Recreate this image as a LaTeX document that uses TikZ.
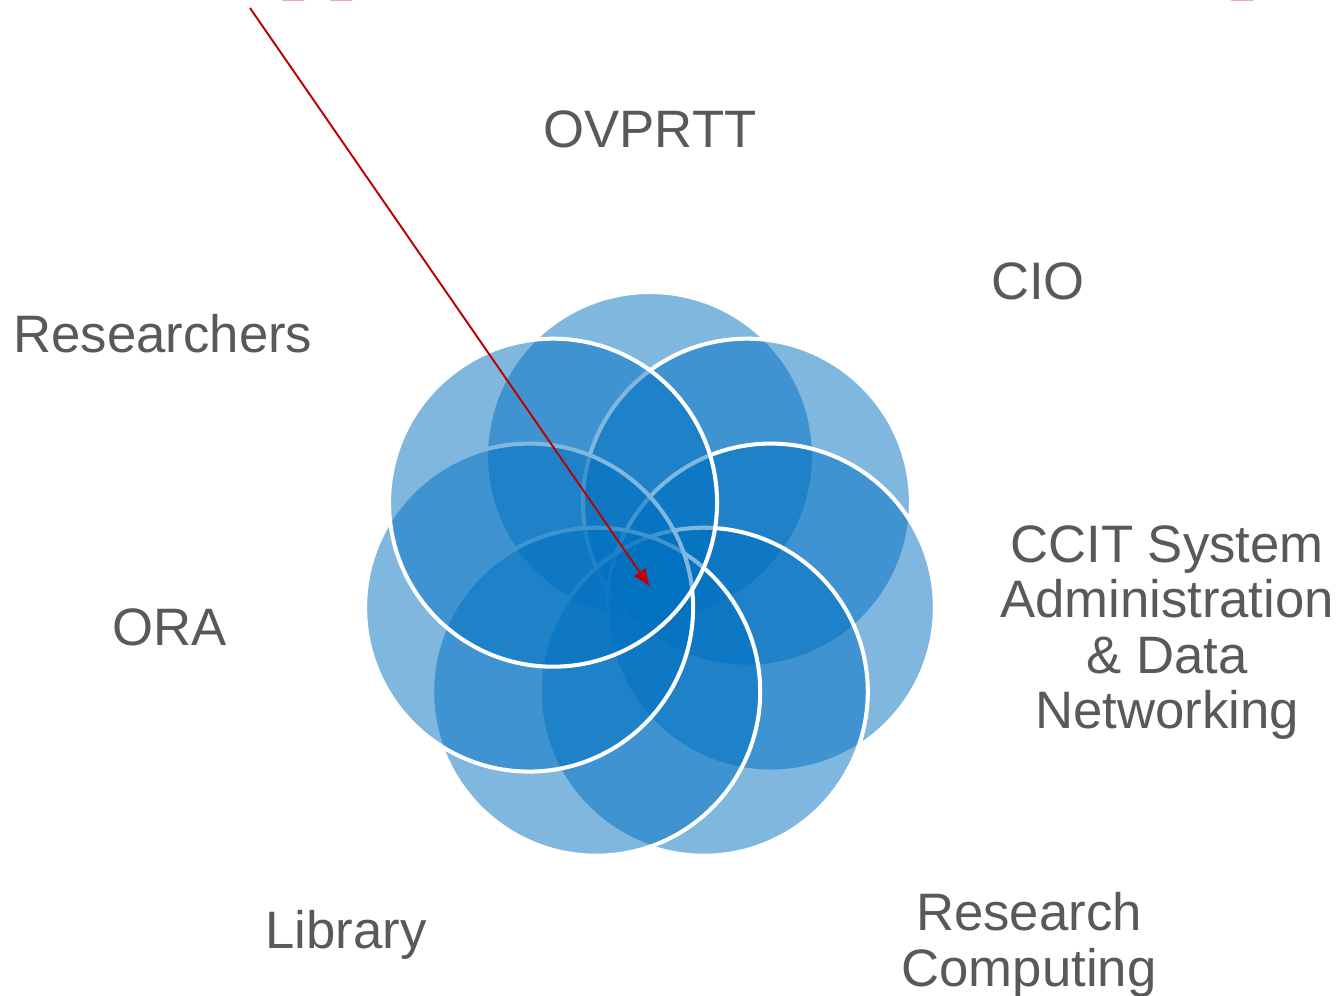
\documentclass[tikz,border=0pt]{standalone}
\usepackage{fontspec}
\setmainfont{Liberation Sans}
\newfontfamily\headfont{Liberation Serif}
\definecolor{petal}{HTML}{0070C0}
\definecolor{labelgray}{HTML}{595959}
\definecolor{newred}{HTML}{C00000}
\usepackage{tikz}
\usetikzlibrary{arrows.meta}

\begin{document}
\begin{tikzpicture}[x=0.02cm, y=0.02cm, Petal/.style={draw=white, line width=2.3pt, fill=petal, fill opacity=0.5}, Label/.style={text=labelgray, font={\fontsize{30}{31.6}\selectfont}, align=center, inner sep=0pt}, Head/.style={text=newred, font={\headfont\bfseries\fontsize{49}{50}\selectfont}, inner sep=0pt, anchor=base west}]
\useasboundingbox (0,0) rectangle (1343,-996);
\clip (0,0) rectangle (1343,-996);
% title, only its lowest part shows
\node[Head] (headl) at (219,17) {Approach};
\node[Head] (headr) at (838,17) {Partnership};
% seven petals, drawn clockwise from the top
\coordinate (hub) at (650,-580);
\foreach \k in {0,...,6}
	\draw[Petal, shift={(hub)}] ({90-\k*360/7}:124) circle (164);
% labels
\node[Label, anchor=base] (ovprtt) at (650,-148) {OVPRTT};
\node[Label, anchor=base] (cio) at (1038,-300) {CIO};
\node[Label, anchor=north] (ccit) at (1167,-525) {CCIT System\\Administration\\\& Data\\Networking};
\node[Label, anchor=north] (rescomp) at (1029,-892) {Research\\Computing};
\node[Label, anchor=base] (library) at (346,-948) {Library};
\node[Label, anchor=base] (ora) at (170,-646) {ORA};
\node[Label, anchor=base] (researchers) at (163,-353) {Researchers};
% pointer
\coordinate (tail) at (250,-8);
\coordinate (tip) at (650,-587);
\draw[newred, line width=1.1pt, -{Latex[length=0.36cm, width=0.3cm]}] (tail) -- (tip);
\end{tikzpicture}
\end{document}
